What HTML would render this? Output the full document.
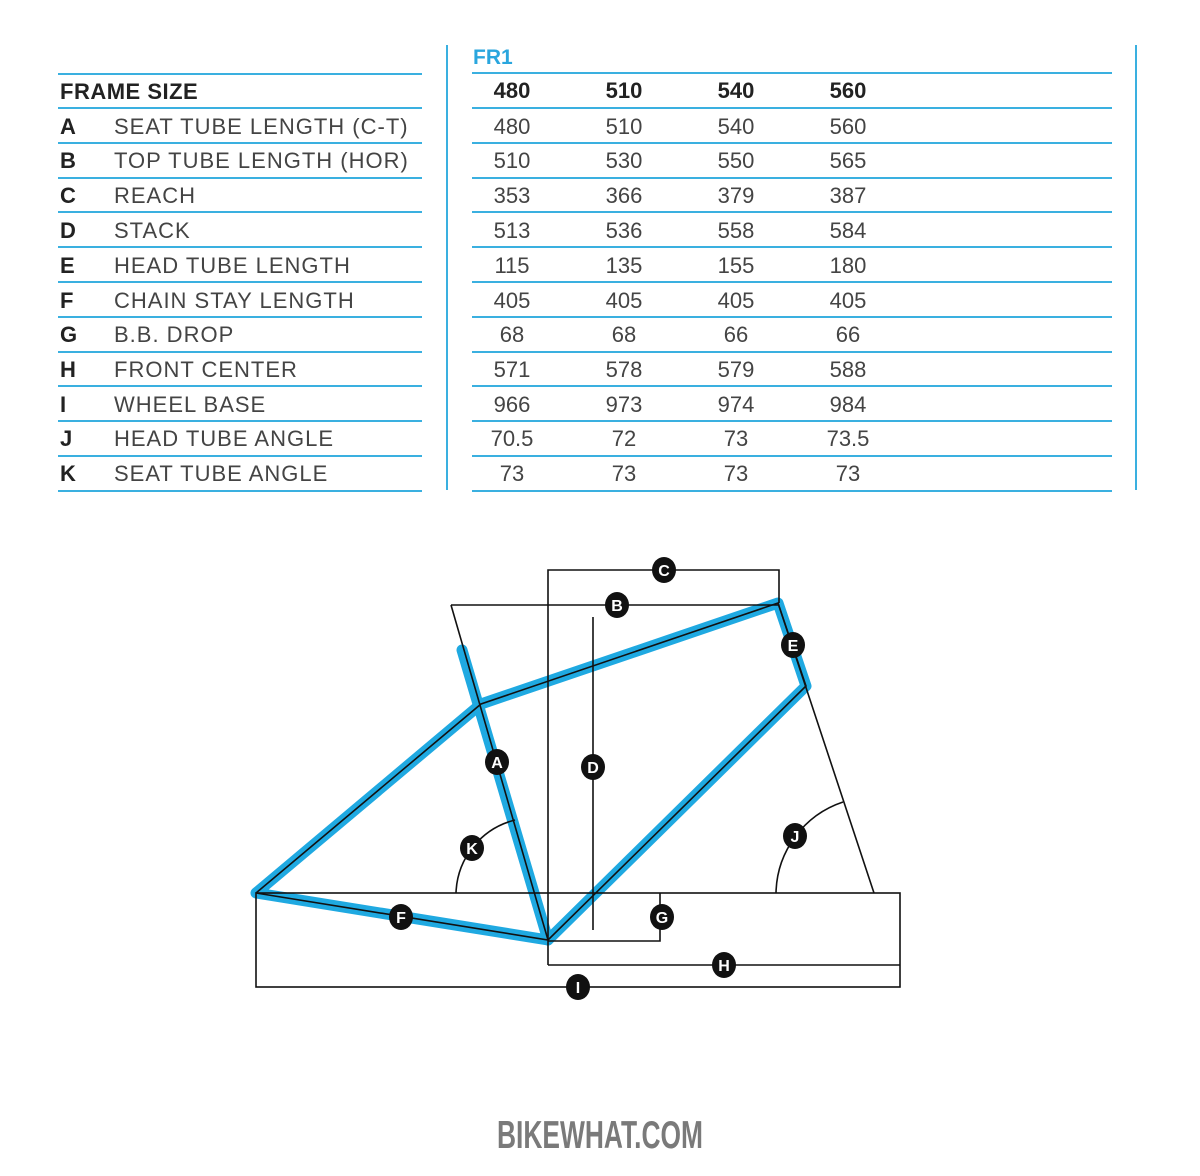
<!DOCTYPE html>
<html><head><meta charset="utf-8"><style>
html,body{margin:0;padding:0;background:#fff;width:1200px;height:1176px;overflow:hidden}
svg text{font-family:"Liberation Sans",sans-serif}
</style></head><body>
<svg width="1200" height="1176" viewBox="0 0 1200 1176" xmlns="http://www.w3.org/2000/svg">
<g stroke="#3ab0e0" stroke-width="2">
<line x1="447" y1="45" x2="447" y2="490"/>
<line x1="1136" y1="45" x2="1136" y2="490"/>
<line x1="58" y1="74" x2="422" y2="74"/><line x1="472" y1="73" x2="1112" y2="73"/>
<line x1="58" y1="108" x2="422" y2="108"/><line x1="472" y1="108" x2="1112" y2="108"/>
<line x1="58" y1="143" x2="422" y2="143"/><line x1="472" y1="143" x2="1112" y2="143"/>
<line x1="58" y1="178" x2="422" y2="178"/><line x1="472" y1="178" x2="1112" y2="178"/>
<line x1="58" y1="212" x2="422" y2="212"/><line x1="472" y1="212" x2="1112" y2="212"/>
<line x1="58" y1="247" x2="422" y2="247"/><line x1="472" y1="247" x2="1112" y2="247"/>
<line x1="58" y1="282" x2="422" y2="282"/><line x1="472" y1="282" x2="1112" y2="282"/>
<line x1="58" y1="317" x2="422" y2="317"/><line x1="472" y1="317" x2="1112" y2="317"/>
<line x1="58" y1="352" x2="422" y2="352"/><line x1="472" y1="352" x2="1112" y2="352"/>
<line x1="58" y1="386" x2="422" y2="386"/><line x1="472" y1="386" x2="1112" y2="386"/>
<line x1="58" y1="421" x2="422" y2="421"/><line x1="472" y1="421" x2="1112" y2="421"/>
<line x1="58" y1="456" x2="422" y2="456"/><line x1="472" y1="456" x2="1112" y2="456"/>
<line x1="58" y1="491" x2="422" y2="491"/><line x1="472" y1="491" x2="1112" y2="491"/>
</g>
<text x="473" y="64" font-size="21" font-weight="bold" fill="#2aa6de">FR1</text>
<g font-size="22" fill="#333">
<text x="60" y="99" font-weight="bold" fill="#222" letter-spacing="0.5">FRAME SIZE</text>
<g font-weight="bold" fill="#222" text-anchor="middle"><text x="512" y="98">480</text><text x="624" y="98">510</text><text x="736" y="98">540</text><text x="848" y="98">560</text></g>
<g font-weight="bold" fill="#222">
<text x="60" y="134">A</text><text x="60" y="168">B</text><text x="60" y="203">C</text><text x="60" y="238">D</text><text x="60" y="273">E</text><text x="60" y="308">F</text><text x="60" y="342">G</text><text x="60" y="377">H</text><text x="60" y="412">I</text><text x="60" y="446">J</text><text x="60" y="481">K</text>
</g>
<g fill="#444" letter-spacing="1">
<text x="114" y="134">SEAT TUBE LENGTH (C-T)</text>
<text x="114" y="168">TOP TUBE  LENGTH (HOR)</text>
<text x="114" y="203">REACH</text>
<text x="114" y="238">STACK</text>
<text x="114" y="273">HEAD TUBE LENGTH</text>
<text x="114" y="308">CHAIN STAY LENGTH</text>
<text x="114" y="342">B.B. DROP</text>
<text x="114" y="377">FRONT CENTER</text>
<text x="114" y="412">WHEEL BASE</text>
<text x="114" y="446">HEAD TUBE ANGLE</text>
<text x="114" y="481">SEAT TUBE ANGLE</text>
</g>
<g text-anchor="middle" fill="#444">
<text x="512" y="134">480</text><text x="624" y="134">510</text><text x="736" y="134">540</text><text x="848" y="134">560</text>
<text x="512" y="168">510</text><text x="624" y="168">530</text><text x="736" y="168">550</text><text x="848" y="168">565</text>
<text x="512" y="203">353</text><text x="624" y="203">366</text><text x="736" y="203">379</text><text x="848" y="203">387</text>
<text x="512" y="238">513</text><text x="624" y="238">536</text><text x="736" y="238">558</text><text x="848" y="238">584</text>
<text x="512" y="273">115</text><text x="624" y="273">135</text><text x="736" y="273">155</text><text x="848" y="273">180</text>
<text x="512" y="308">405</text><text x="624" y="308">405</text><text x="736" y="308">405</text><text x="848" y="308">405</text>
<text x="512" y="342">68</text><text x="624" y="342">68</text><text x="736" y="342">66</text><text x="848" y="342">66</text>
<text x="512" y="377">571</text><text x="624" y="377">578</text><text x="736" y="377">579</text><text x="848" y="377">588</text>
<text x="512" y="412">966</text><text x="624" y="412">973</text><text x="736" y="412">974</text><text x="848" y="412">984</text>
<text x="512" y="446">70.5</text><text x="624" y="446">72</text><text x="736" y="446">73</text><text x="848" y="446">73.5</text>
<text x="512" y="481">73</text><text x="624" y="481">73</text><text x="736" y="481">73</text><text x="848" y="481">73</text>
</g>
</g>
<g stroke="#1fa9e1" stroke-width="11" fill="none" stroke-linecap="round" stroke-linejoin="round">
<polyline points="256,893 481,704 778,603 806,686 548,940 256,893"/>
<line x1="462" y1="650" x2="548" y2="940"/>
</g>
<g stroke="#111" stroke-width="1.6" fill="none">
<polyline points="256,893 481,704 778,603 806,686 548,940 256,893"/>
<polyline points="451,605 778,605"/>
<line x1="451" y1="605" x2="548" y2="940"/>
<polyline points="548,965 548,570 779,570 779,603"/>
<line x1="593" y1="617" x2="593" y2="930"/>
<rect x="256" y="893" width="644" height="94"/>
<polyline points="548,965 900,965"/>
<polyline points="660,893 660,941 548,941"/>
<line x1="778" y1="603" x2="874" y2="893"/>
<path d="M456,893 A78,78 0 0 1 515,820"/>
<path d="M776,893 A98,98 0 0 1 843,802"/>
</g>
<g fill="#111">
<ellipse cx="664" cy="570" rx="12" ry="13"/><ellipse cx="617" cy="605" rx="12" ry="13"/><ellipse cx="793" cy="645" rx="12" ry="13"/>
<ellipse cx="497" cy="762" rx="12" ry="13"/><ellipse cx="593" cy="767" rx="12" ry="13"/><ellipse cx="472" cy="848" rx="12" ry="13"/>
<ellipse cx="795" cy="836" rx="12" ry="13"/><ellipse cx="401" cy="917" rx="12" ry="13"/><ellipse cx="662" cy="917" rx="12" ry="13"/>
<ellipse cx="724" cy="965" rx="12" ry="13"/><ellipse cx="578" cy="987" rx="12" ry="13"/>
</g>
<g fill="#fff" font-size="16" font-weight="bold" text-anchor="middle">
<text x="664" y="576">C</text><text x="617" y="611">B</text><text x="793" y="651">E</text>
<text x="497" y="768">A</text><text x="593" y="773">D</text><text x="472" y="854">K</text>
<text x="795" y="842">J</text><text x="401" y="923">F</text><text x="662" y="923">G</text>
<text x="724" y="971">H</text><text x="578" y="993">I</text>
</g>
<text x="497" y="1148" font-size="39" font-weight="bold" fill="#7a7a7a" textLength="206" lengthAdjust="spacingAndGlyphs">BIKEWHAT.COM</text>
</svg>
</body></html>
